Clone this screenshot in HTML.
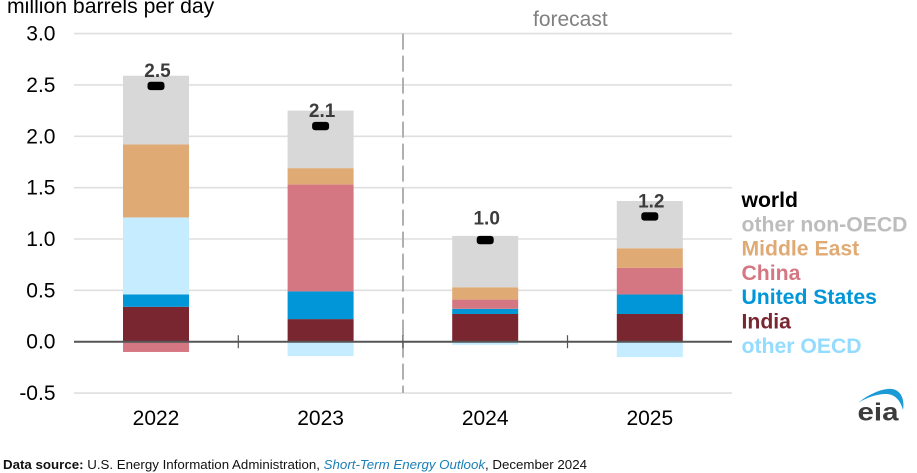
<!DOCTYPE html>
<html lang="en">
<head>
<meta charset="utf-8">
<title>World liquid fuels consumption growth</title>
<style>
html,body{margin:0;padding:0;background:#fff;width:917px;height:473px;overflow:hidden}
svg{display:block;font-family:"Liberation Sans",Arial,sans-serif}
</style>
</head>
<body>
<svg id="chart" xmlns="http://www.w3.org/2000/svg" width="917" height="473" viewBox="0 0 917 473">
  <text x="7" y="13" font-size="21.2" fill="#000">million barrels per day</text>
  <text x="533" y="26" font-size="21" fill="#808080">forecast</text>
  <g id="grid"></g>
  <g id="ylabels"></g>
  <g id="bars"></g>
  <g id="axis"></g>
  <g id="world"></g>
  <g id="legend"></g>
  <g>
    <path d="M858 403 C870 393 884 388 892 389 C900 390 905 398 903 410 C900 399 894 394 886 394 C876 394 866 398 858 403 Z" fill="#1a9bd7"/>
    <text x="857.5" y="420.5" font-size="25" font-weight="bold" fill="#3c3c3c" textLength="41" lengthAdjust="spacingAndGlyphs">eia</text>
  </g>
  <text x="3" y="469" font-size="13" fill="#111" textLength="584" lengthAdjust="spacingAndGlyphs"><tspan font-weight="bold">Data source:</tspan> U.S. Energy Information Administration, <tspan font-style="italic" fill="#1a7fb5">Short-Term Energy Outlook</tspan>, December 2024</text>
</svg>
<script>
var categories = ["2022", "2023", "2024", "2025"];
var yTicks = [3.0, 2.5, 2.0, 1.5, 1.0, 0.5, 0.0, -0.5];
var worldLabels = ["2.5", "2.1", "1.0", "1.2"];
var world = [2.49, 2.10, 0.99, 1.22];
var india = [0.34, 0.22, 0.27, 0.27];
var unitedStates = [0.12, 0.27, 0.05, 0.19];
var otherOecd = [0.75, -0.14, -0.03, -0.15];
var china = [-0.10, 1.04, 0.09, 0.26];
var middleEast = [0.71, 0.16, 0.12, 0.19];
var otherNonOecd = [0.67, 0.56, 0.50, 0.46];
var legendLabels = ["world", "other non-OECD", "Middle East", "China", "United States", "India", "other OECD"];
var legendColors = ["#000000", "#bdbdbd", "#e0aa74", "#d57782", "#0096d7", "#7a2631", "#93dcff"];

var stackOrder = [
  {key: "india", values: india, color: "#7a2631"},
  {key: "united-states", values: unitedStates, color: "#0096d7"},
  {key: "other-oecd", values: otherOecd, color: "#c5ecff"},
  {key: "china", values: china, color: "#d57782"},
  {key: "middle-east", values: middleEast, color: "#e0aa74"},
  {key: "other-non-oecd", values: otherNonOecd, color: "#d8d8d8"}
];

var NS = "http://www.w3.org/2000/svg";
var plotLeft = 74, plotRight = 732, step = 164.6, barW = 66;
function yScale(v) { return 341.7 - v * 102.7; }
function xCenter(i) { return plotLeft + step * (i + 0.5) - 0.3; }
function make(parent, tag, attrs, text) {
  var el = document.createElementNS(NS, tag);
  for (var k in attrs) { el.setAttribute(k, attrs[k]); }
  if (text !== undefined) { el.textContent = text; }
  parent.appendChild(el);
  return el;
}

var gridG = document.getElementById("grid");
var ylabG = document.getElementById("ylabels");
yTicks.forEach(function (t) {
  if (t !== 0) {
    var line = make(gridG, "line", {x1: plotLeft, x2: plotRight, y1: yScale(t), y2: yScale(t), stroke: "#dfdfdf", "stroke-width": 1.6});
    
    
  }
  var lab = make(ylabG, "text", {x: 55.5, y: yScale(t) + 7, "font-size": 21, "text-anchor": "end", fill: "#000"}, t.toFixed(1));
  
  
});

var barsG = document.getElementById("bars");
categories.forEach(function (cat, i) {
  var pos = 0, neg = 0;
  stackOrder.forEach(function (s) {
    var v = s.values[i], y0, y1;
    if (v >= 0) { y0 = pos; y1 = pos + v; pos = y1; }
    else { y0 = neg; y1 = neg + v; neg = y1; }
    var top = yScale(Math.max(y0, y1)), bot = yScale(Math.min(y0, y1));
    var r = make(barsG, "rect", {x: xCenter(i) - barW / 2, y: top, width: barW, height: bot - top, fill: s.color});
    
    
  });
});

var axisG = document.getElementById("axis");
var divider = make(axisG, "line", {x1: 403, x2: 403, y1: yScale(3), y2: yScale(-0.5), stroke: "#b0b0b0", "stroke-width": 2, "stroke-dasharray": "16 6"});


var zero = make(axisG, "line", {x1: plotLeft, x2: plotRight, y1: yScale(0), y2: yScale(0), stroke: "#555", "stroke-width": 2});


categories.forEach(function (cat, i) {
  if (i < categories.length - 1) {
    var tx = xCenter(i) + step / 2;
    var tick = make(axisG, "line", {x1: tx, x2: tx, y1: yScale(0) - 6.5, y2: yScale(0) + 6.5, stroke: "#555", "stroke-width": 1.2});
    
    
  }
  var lab = make(axisG, "text", {x: xCenter(i), y: 425, "font-size": 21, "text-anchor": "middle", fill: "#000"}, cat);
  
  
});

var worldG = document.getElementById("world");
categories.forEach(function (cat, i) {
  var m = make(worldG, "rect", {x: xCenter(i) - 8.5, y: yScale(world[i]) - 4.2, width: 17, height: 8.4, rx: 3, fill: "#000"});
  
  
  var gap = cat === "2024" ? 15.5 : 9;
  var t = make(worldG, "text", {x: xCenter(i) + 1.5, y: yScale(world[i]) - gap, "font-size": 19, "font-weight": "bold", "text-anchor": "middle", fill: "#3c3c3c"}, worldLabels[i]);
  
  
});

var legendG = document.getElementById("legend");
legendLabels.forEach(function (name, i) {
  var t = make(legendG, "text", {x: 741.5, y: 207 + i * 24.3, "font-size": 21.2, "font-weight": "bold", fill: legendColors[i]}, name);
  
  
});
</script>
</body>
</html>
